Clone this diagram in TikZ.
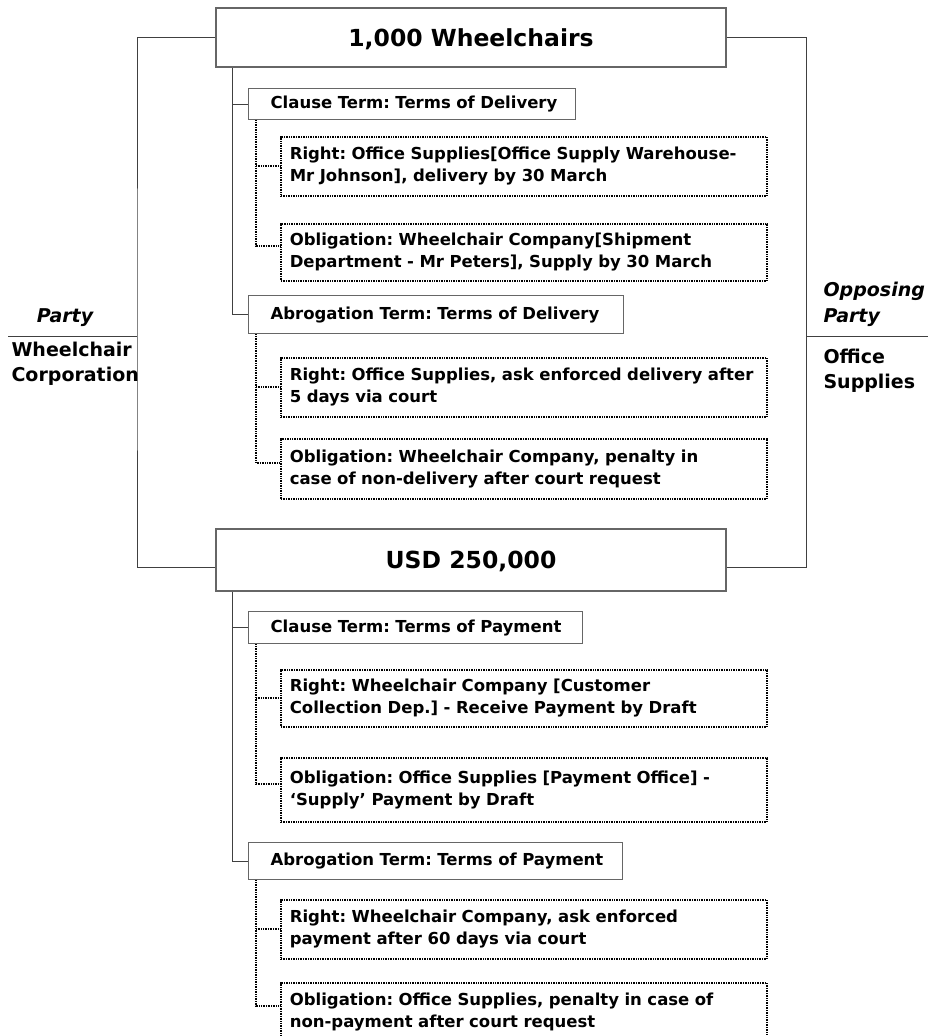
\documentclass[tikz,border=0pt]{standalone}
\usepackage{fontspec}
\setmainfont{DejaVu Sans}
\frenchspacing
\usetikzlibrary{positioning,calc}
\tikzset{titlebox/.style={draw=black!60,line width=1.2pt,minimum width=510pt,text depth=0pt,font=\fontsize{23.5}{28}\selectfont\bfseries},
  termbox/.style={draw=black!60,line width=1.2pt,anchor=north west,inner xsep=0pt,align=left,
    font=\fontsize{16.5}{22}\selectfont\bfseries,execute at begin node={\leftskip=22pt}},
  dutybox/.style={draw,dash pattern=on 1pt off 0.7pt,line width=1.6pt,anchor=north west,inner xsep=0pt,text width=486pt,
    align=left,font=\fontsize{16.5}{22}\selectfont\bfseries,execute at begin node={\leftskip=9pt}},
  link/.style={draw=black!75,line width=0.9pt},
  dotlink/.style={dash pattern=on 1pt off 0.7pt,line width=1.9pt}}

\begin{document}
\begin{tikzpicture}[x=1pt,y=-1pt,
  lbl/.style={font=\fontsize{19}{25}\selectfont\bfseries,align=left}]
\useasboundingbox (0,0) rectangle (928,1036);
% subjects of the contract
\node[titlebox,minimum height=59pt] (wheel) at (471,37.5) {1,000 Wheelchairs};
\node[titlebox,minimum height=62pt] (usd) at (471,560) {USD 250,000};
% delivery terms
\node[termbox,text width=327pt,minimum height=31pt] (cd) at (248,88) {Clause Term: Terms of Delivery};
\node[dutybox,minimum height=59pt] (rd) at (280,136) {Right: Office Supplies[Office Supply Warehouse-\\Mr Johnson], delivery by 30 March};
\node[dutybox,minimum height=57pt] (od) at (280,223) {Obligation: Wheelchair Company[Shipment\\Department - Mr Peters], Supply by 30 March};
\node[termbox,text width=375pt,minimum height=38pt] (ad) at (248,295) {Abrogation Term: Terms of Delivery};
\node[dutybox,minimum height=59pt] (rad) at (280,357) {Right: Office Supplies, ask enforced delivery after\\5 days via court};
\node[dutybox,minimum height=60pt] (oad) at (280,438) {Obligation: Wheelchair Company, penalty in\\case of non-delivery after court request};
% payment terms
\node[termbox,text width=334pt,minimum height=32pt] (cp) at (248,611) {Clause Term: Terms of Payment};
\node[dutybox,minimum height=57pt] (rp) at (280,669) {Right: Wheelchair Company [Customer\\Collection Dep.] - Receive Payment by Draft};
\node[dutybox,minimum height=64pt] (op) at (280,757) {Obligation: Office Supplies [Payment Office] -\\`Supply' Payment by Draft};
\node[termbox,text width=374pt,minimum height=37pt] (ap) at (248,842) {Abrogation Term: Terms of Payment};
\node[dutybox,minimum height=59pt] (rap) at (280,899) {Right: Wheelchair Company, ask enforced\\payment after 60 days via court};
\node[dutybox,minimum height=59pt] (oap) at (280,982) {Obligation: Office Supplies, penalty in case of\\non-payment after court request};
% parties
\coordinate (lb) at (137,336);
\coordinate (pl) at (8,336);
\coordinate (rb) at (806,336);
\coordinate (pr) at (928,336);
\node[lbl,anchor=south,font=\fontsize{19}{25}\selectfont\bfseries\itshape] (party) at (65,330) {Party};
\node[lbl,anchor=north west] (wcorp) at (8,339) {Wheelchair\\Corporation};
\node[lbl,anchor=south west,font=\fontsize{19}{26}\selectfont\bfseries\itshape] (oparty) at (820,330) {Opposing\\Party};
\node[lbl,anchor=north west] (osup) at (820,346) {Office\\Supplies};
\draw[link] (wheel.west) -| (lb) |- ([yshift=-7pt]usd.west);
\draw[link] (wheel.east) -| (rb) |- ([yshift=-7pt]usd.east);
\draw[link] (pl) -- (lb);
\draw[link] (rb) -- (pr);
% trees
\foreach \s/\c/\a in {wheel/cd/ad,usd/cp/ap}{
  \draw[link] ([xshift=-16pt]\c.west |- \s.south) |- (\a.west);
  \draw[link] ([xshift=-16pt]\c.west) -- (\c.west);}
\foreach \t/\r/\o in {cd/rd/od,ad/rad/oad,cp/rp/op,ap/rap/oap}{
  \draw[dotlink] ([xshift=8pt]\t.south west) |- ([yshift=6pt]\o.west);
  \draw[dotlink] ([xshift=8pt]\t.south west |- \r.west) -- (\r.west);}
\end{tikzpicture}
\end{document}
